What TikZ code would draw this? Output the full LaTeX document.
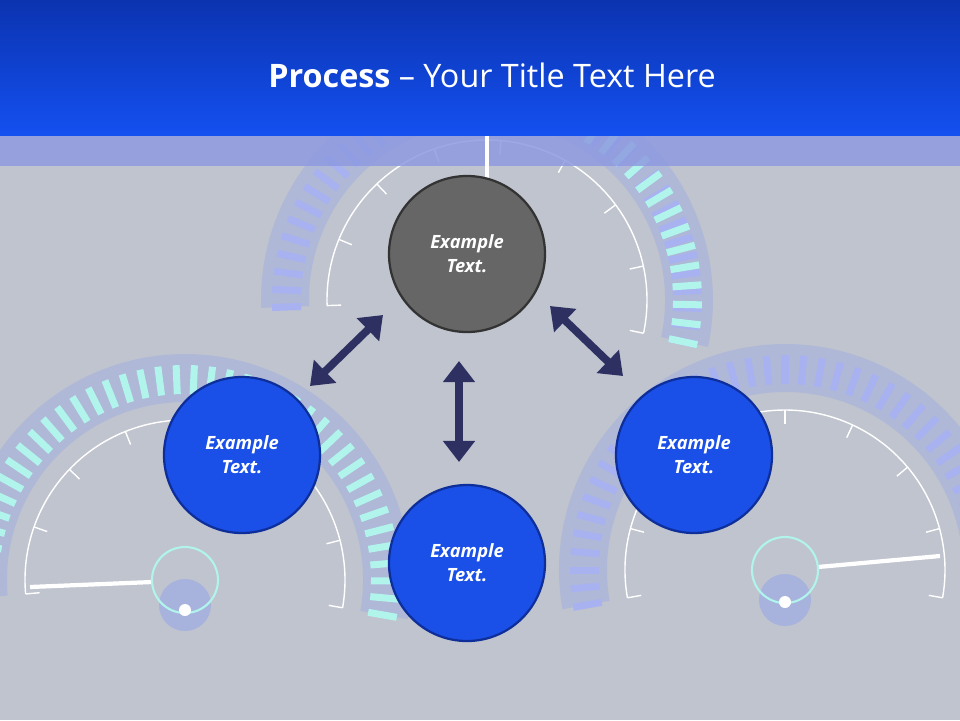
\documentclass[tikz,border=0pt]{standalone}
\usepackage{fontspec}
\setmainfont{Open Sans}
\usetikzlibrary{arrows.meta}
\definecolor{bg}{HTML}{C0C4CE}
\definecolor{hdtop}{HTML}{0B33B0}
\definecolor{hdbot}{HTML}{1450F0}
\definecolor{band}{HTML}{8E9AE0}
\definecolor{navy}{HTML}{2E3062}
\definecolor{cblue}{HTML}{1A50E8}
\definecolor{cbord}{HTML}{0E2E9A}
\definecolor{cyanT}{HTML}{B0F4EC}
\definecolor{lavT}{HTML}{A8B2F0}
\definecolor{glow}{HTML}{6E8CFF}
\tikzset{
  circ/.style={circle,minimum size=156*0.25mm,line width=1.6pt,font=\bfseries\itshape\fontsize{13}{17}\selectfont,text=white,align=center,inner sep=0pt},
  bluecirc/.style={circ,fill=cblue,draw=cbord},
  greycirc/.style={circ,fill=black!60,draw=black!80},
  dblarrow/.style={navy,line width=5.5pt,{Triangle[width=22pt,length=15pt]}-{Triangle[width=22pt,length=15pt]}},
  scaleline/.style={white,line width=1pt}
}
\newcommand{\gauge}[5]{% cx cy startangle endangle color (screen angles)
  \begin{scope}[shift={(#1,#2)}]
    \fill[glow,opacity=0.2] (-#3:226) arc[start angle=-#3,end angle=-#4,radius=226] -- (-#4:178) arc[start angle=-#4,end angle=-#3,radius=178] -- cycle;
    \pgfmathsetmacro{\st}{(#4-#3)/40}
    \foreach \i in {0,...,40}{
      \pgfmathsetmacro{\ang}{-(#3+\i*\st)}
      \draw[#5,line width=5pt] (\ang:186) -- (\ang:215);
    }
    \draw[scaleline] (-#3:160) arc[start angle=-#3,end angle=-#4,radius=160];
    \pgfmathsetmacro{\st}{(#4-#3)/8}
    \foreach \i in {0,...,8}{
      \pgfmathsetmacro{\ang}{-(#3+\i*\st)}
      \draw[scaleline] (\ang:146) -- (\ang:160);
    }
  \end{scope}}
\begin{document}
\begin{tikzpicture}[x=0.25mm,y=-0.25mm]
\useasboundingbox (0,0) rectangle (960,720);
\fill[bg] (0,0) rectangle (960,720);
\gauge{487}{300}{182}{-12}{lavT}
\begin{scope}[shift={(487,300)}]
\foreach \i in {0,...,20}{\pgfmathsetmacro{\ang}{-(95-\i*5.35)}\draw[cyanT,line width=5pt] (\ang:186) -- (\ang:215);}
\end{scope}
\gauge{185}{580}{185}{-10}{cyanT}
\gauge{785}{570}{190}{-10}{lavT}
\fill[glow,opacity=0.3] (185,605) circle (26);
\fill[glow,opacity=0.3] (785,600) circle (26);
\draw[white,line width=3pt] (152,582) -- (30,587);
\draw[white,line width=3pt] (818,567) -- (940,556);
\draw[cyanT,line width=1.5pt] (185,580) circle (33);
\draw[cyanT,line width=1.5pt] (785,570) circle (33);
\fill[white] (185,610) circle (6);
\fill[white] (785,602) circle (6);
\fill[band,opacity=0.85] (0,135) rectangle (960,166);
\draw[white,line width=3pt] (487,135) -- (487,178);
\shade[top color=hdtop,bottom color=hdbot] (0,0) rectangle (960,135);
\node[text=white,font=\fontsize{23}{26}\selectfont] (title) at (492,75) {\textbf{Process} -- Your Title Text Here};
\node[greycirc] (top) at (467,254) {Example\\Text.};
\node[bluecirc] (left) at (242,455) {Example\\Text.};
\node[bluecirc] (bot) at (467,563) {Example\\Text.};
\node[bluecirc] (right) at (694,455) {Example\\Text.};
\coordinate (l1) at (310,386); \coordinate (l2) at (383,315);
\coordinate (r1) at (550,306); \coordinate (r2) at (623,376);
\coordinate (m1) at (459,361); \coordinate (m2) at (459,462);
\draw[dblarrow] (l1) -- (l2);
\draw[dblarrow] (r1) -- (r2);
\draw[dblarrow] (m1) -- (m2);
\end{tikzpicture}
\end{document}
